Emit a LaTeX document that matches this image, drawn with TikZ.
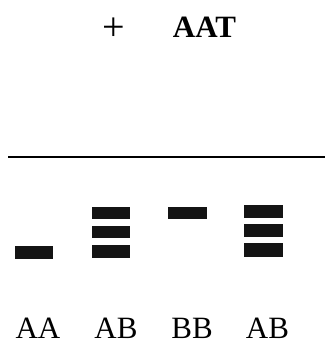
\documentclass[tikz,border=0pt]{standalone}
\usepackage{fontspec}
\setmainfont{Liberation Serif}
\begin{document}
\begin{tikzpicture}[x=1pt,y=-1pt]
\tikzset{band/.style={fill=black!92,draw=none},
  lbl/.style={inner sep=0pt,anchor=base,text depth=0pt,font=\fontsize{31}{31}\selectfont}}
\useasboundingbox (0,0) rectangle (325,344);
%\draw[step=10,gray,very thin] (0,0) grid (325,344);
\node[lbl,font=\fontsize{40}{40}\selectfont] (plus) at (113.5,41) {+};
\node[lbl,font=\fontsize{31}{31}\selectfont\bfseries] (aat) at (204.5,38) {AAT};
\draw[line width=1.3pt] (8,157)--(325,157);
% lane 1
\draw[band] (15,246) rectangle (53,259);
% lane 2
\draw[band] (92,207) rectangle (130,219);
\draw[band] (92,226) rectangle (130,238);
\draw[band] (92,245) rectangle (130,258);
% lane 3
\draw[band] (168,207) rectangle (207,219);
% lane 4
\draw[band] (244,205) rectangle (283,218);
\draw[band] (244,224) rectangle (283,237);
\draw[band] (244,243) rectangle (283,257);
\node[lbl] (aa) at (38,338) {AA};
\node[lbl] (ab) at (116,338) {AB};
\node[lbl] (bb) at (192,338) {BB};
\node[lbl] (ab2) at (267.5,338) {AB};
\end{tikzpicture}
\end{document}
